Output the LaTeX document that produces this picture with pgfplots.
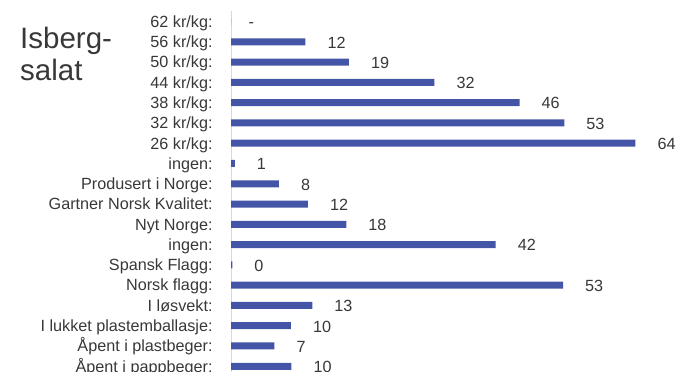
\documentclass[border=0pt]{standalone}
\usepackage{pgfplots}
\pgfplotsset{compat=1.18}
\usepackage{pgfplotstable}
\usepackage{fontspec}
\setmainfont{Liberation Sans}
\definecolor{barblue}{HTML}{4454A6}
\definecolor{txt}{HTML}{383838}
\definecolor{axgray}{HTML}{D9D9D9}

\pgfplotstableread{
idx val lab
0 0 \kern-5bp-
1 11.8 12
2 18.7 19
3 32.3 32
4 45.8 46
5 52.9 53
6 64.2 64
7 0.6 1
8 7.6 8
9 12.2 12
10 18.3 18
11 42.0 42
12 0.2 0
13 52.7 53
14 12.9 13
15 9.5 10
16 6.9 7
17 9.6 10
}\data

\begin{document}
\begin{tikzpicture}
\path[use as bounding box] (0,0) rectangle (677bp,372bp);
\node[anchor=base west, inner sep=0pt, font=\fontsize{29.5bp}{32bp}\selectfont, text=txt] at (20bp,323bp) {Isberg-};
\node[anchor=base west, inner sep=0pt, font=\fontsize{29.5bp}{32bp}\selectfont, text=txt] at (20bp,291bp) {salat};
\begin{axis}[
  at={(231bp,-4.4bp)}, anchor=south west,
  scale only axis,
  width=441bp, height=365bp,
  xmin=0, xmax=70,
  ymin=-0.5, ymax=17.5,
  y dir=reverse,
  enlargelimits=false,
  clip=false,
  xbar, bar width=7bp,
  axis x line=none,
  axis y line*=left,
  y axis line style={-, draw=axgray, line width=0.75bp},
  xtick=\empty,
  ytick={0,...,17},
  yticklabels={62 kr/kg:, 56 kr/kg:, 50 kr/kg:, 44 kr/kg:, 38 kr/kg:, 32 kr/kg:, 26 kr/kg:, ingen:, Produsert i Norge:, Gartner Norsk Kvalitet:, Nyt Norge:, ingen:, Spansk Flagg:, Norsk flagg:, I løsvekt:, I lukket plastemballasje:, Åpent i plastbeger:, Åpent i pappbeger:},
  major y tick style={draw=none},
  yticklabel style={anchor=base east, inner sep=0pt, xshift=-14bp, yshift=-5.8bp, font=\fontsize{16.2bp}{19bp}\selectfont, text=txt},
  point meta=explicit symbolic,
  nodes near coords,
  every node near coord/.append style={anchor=base west, inner sep=0pt, xshift=22bp, yshift=-6.3bp, font=\fontsize{16.2bp}{19bp}\selectfont, text=txt},
]
\addplot[fill=barblue, draw=none] table[x=val, y=idx, meta=lab] {\data};
\end{axis}
\end{tikzpicture}
\end{document}
